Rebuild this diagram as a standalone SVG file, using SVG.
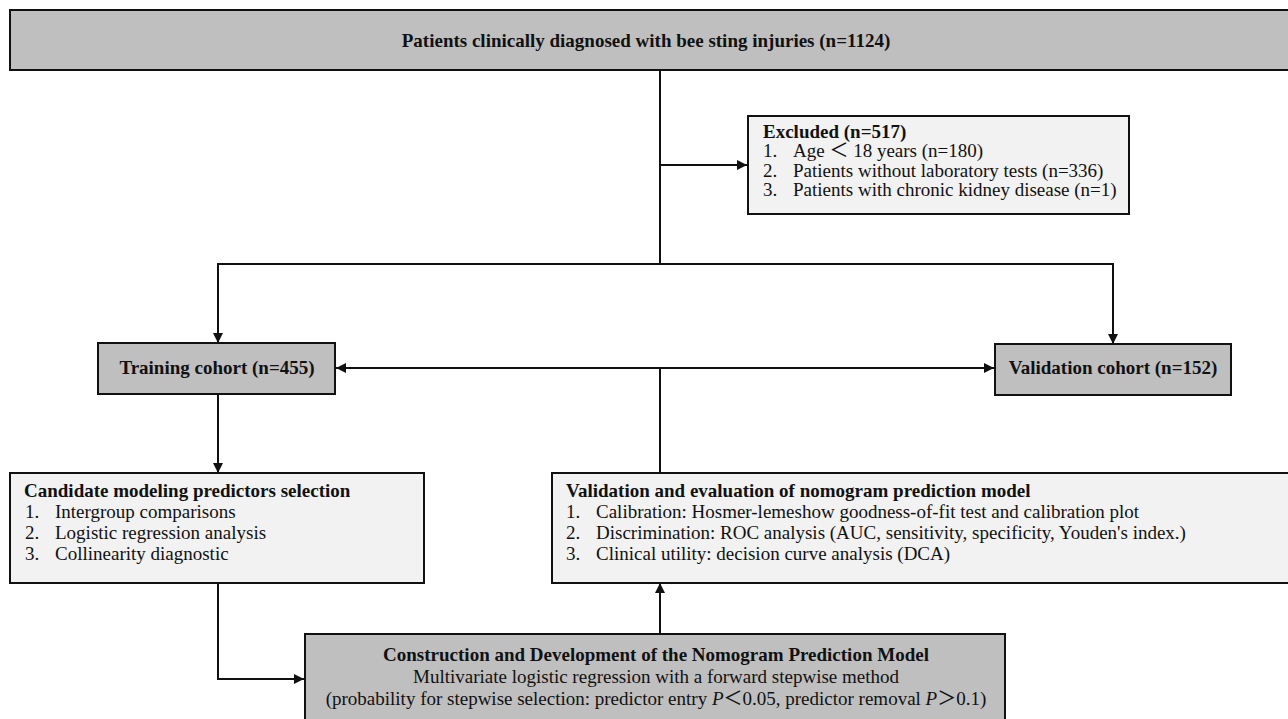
<svg xmlns="http://www.w3.org/2000/svg" width="1288" height="719" viewBox="0 0 1288 719">
<defs>
<style>
.g{fill:#bfbfbf;stroke:#111;stroke-width:2}
.l{fill:#f2f2f2;stroke:#111;stroke-width:2}
text{font-family:"Liberation Serif","Noto Sans CJK SC",serif;font-size:19px;fill:#111}
.b{font-weight:bold}
.c{text-anchor:middle}
.ln{fill:none;stroke:#111;stroke-width:2}
</style>
<marker id="ah" viewBox="0 0 10 10" refX="10" refY="5" markerWidth="11" markerHeight="10" markerUnits="userSpaceOnUse" orient="auto-start-reverse">
<path d="M0,0 L10,5 L0,10 z" fill="#111"/>
</marker>
</defs>
<rect width="1288" height="719" fill="#fff"/>
<g id="connectors">
<line class="ln" x1="660" y1="70" x2="660" y2="264"/>
<line class="ln" x1="660" y1="165" x2="747" y2="165" marker-end="url(#ah)"/>
<polyline class="ln" points="218,343 218,264 1113,264 1113,344" marker-start="url(#ah)" marker-end="url(#ah)"/>
<line class="ln" x1="336" y1="368" x2="994" y2="368" marker-start="url(#ah)" marker-end="url(#ah)"/>
<line class="ln" x1="660" y1="368" x2="660" y2="473"/>
<line class="ln" x1="218" y1="394" x2="218" y2="473" marker-end="url(#ah)"/>
<polyline class="ln" points="218,583 218,679 304,679" marker-end="url(#ah)"/>
<line class="ln" x1="660" y1="634" x2="660" y2="583" marker-end="url(#ah)"/>
</g>
<g id="n-top">
<rect class="g" x="10" y="10" width="1290" height="60"/>
<text class="b c" x="646" y="47">Patients clinically diagnosed with bee sting injuries (n=1124)</text>
</g>
<g id="n-excluded">
<rect class="l" x="748" y="116" width="381" height="98"/>
<text class="b" x="763" y="138">Excluded (n=517)</text>
<text x="763" y="157">1.</text><text x="793" y="157">Age ＜ 18 years (n=180)</text>
<text x="763" y="177">2.</text><text x="793" y="177">Patients without laboratory tests (n=336)</text>
<text x="763" y="196">3.</text><text x="793" y="196">Patients with chronic kidney disease (n=1)</text>
</g>
<g id="n-training">
<rect class="g" x="98" y="343" width="237" height="51"/>
<text class="b c" x="217" y="374">Training cohort (n=455)</text>
</g>
<g id="n-validation">
<rect class="g" x="995" y="344" width="236" height="51"/>
<text class="b c" x="1113" y="374">Validation cohort (n=152)</text>
</g>
<g id="n-candidate">
<rect class="l" x="10" y="473" width="414" height="110"/>
<text class="b" x="24" y="497">Candidate modeling predictors selection</text>
<text x="25" y="518">1.</text><text x="55" y="518">Intergroup comparisons</text>
<text x="25" y="539">2.</text><text x="55" y="539">Logistic regression analysis</text>
<text x="25" y="560">3.</text><text x="55" y="560">Collinearity diagnostic</text>
</g>
<g id="n-evaluation">
<rect class="l" x="552" y="473" width="740" height="110"/>
<text class="b" x="566" y="497">Validation and evaluation of nomogram prediction model</text>
<text x="566" y="518">1.</text><text x="596" y="518">Calibration: Hosmer-lemeshow goodness-of-fit test and calibration plot</text>
<text x="566" y="539">2.</text><text x="596" y="539">Discrimination: ROC analysis (AUC, sensitivity, specificity, Youden's index.)</text>
<text x="566" y="560">3.</text><text x="596" y="560">Clinical utility: decision curve analysis (DCA)</text>
</g>
<g id="n-construction">
<rect class="g" x="305" y="634" width="700" height="92"/>
<text class="b c" x="656" y="661">Construction and Development of the Nomogram Prediction Model</text>
<text class="c" x="656" y="683">Multivariate logistic regression with a forward stepwise method</text>
<text class="c" x="656" y="705">(probability for stepwise selection: predictor entry <tspan font-style="italic">P</tspan>＜0.05, predictor removal <tspan font-style="italic">P</tspan>＞0.1)</text>
</g>
</svg>
